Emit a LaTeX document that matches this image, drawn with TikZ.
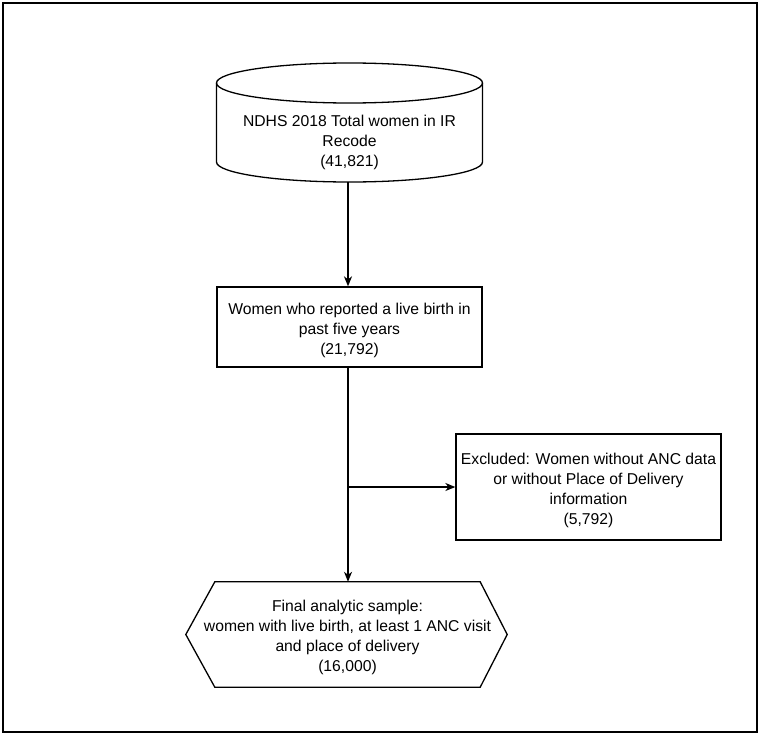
\documentclass[tikz,border=0pt]{standalone}
\usepackage{fontspec}
\setmainfont{Liberation Sans}
\usetikzlibrary{arrows.meta}
\begin{document}
\begin{tikzpicture}[x=1pt,y=-1pt,
  every node/.style={inner sep=0pt},
  txt/.style={font=\fontsize{15.7}{20}\selectfont, align=center},
  shp/.style={draw, line width=1.3pt},
  box/.style={shp, minimum width=265pt, minimum height=80pt},
  arr/.style={line width=1.3pt, -{Stealth[length=10pt,width=8pt,inset=3pt]}}]
\useasboundingbox (0,0) rectangle (762,736);
\draw[line width=1.5pt] (3,3) rectangle (757,732);
% cylinder
\node[minimum width=266pt, minimum height=119pt] (cyl) at (349.5,122.5) {};
\draw[shp] (216.5,83) -- (216.5,162) arc[start angle=180, end angle=360, x radius=133, y radius=-20] -- (482.5,83);
\draw[shp] (349.5,83) ellipse[x radius=133, y radius=20];
\node[txt] (cyltxt) at (349.5,142) {NDHS 2018 Total women in IR\\Recode\\(41,821)};
% box 2
\node[box] (b2) at (349.5,327) {};
\node[txt] (b2txt) at (349.5,330) {Women who reported a live birth in\\past five years\\(21,792)};
% excluded
\node[box, minimum height=106pt] (ex) at (588.5,487) {};
\node[txt] (extxt) at (588.5,490) {Excluded: Women without ANC data\\or without Place of Delivery\\information\\(5,792)};
% hexagon
\node[minimum width=265pt, minimum height=105pt] (hex) at (347.5,634.5) {};
\draw[shp] (hex.north west) -- (hex.north east) -- ([xshift=27pt]hex.east) -- (hex.south east) -- (hex.south west) -- ([xshift=-29pt]hex.west) -- cycle;
\node[txt] (hextxt) at (347.5,637.5) {Final analytic sample:\\women with live birth, at least 1 ANC visit\\and place of delivery\\(16,000)};
% connectors
\draw[arr] (cyl.south -| 348,0) -- (b2.north -| 348,0);
\draw[arr] (b2.south -| 348,0) -- (hex.north -| 348,0);
\draw[arr] (ex.west -| 348,0) -- (ex.west);
\end{tikzpicture}
\end{document}
